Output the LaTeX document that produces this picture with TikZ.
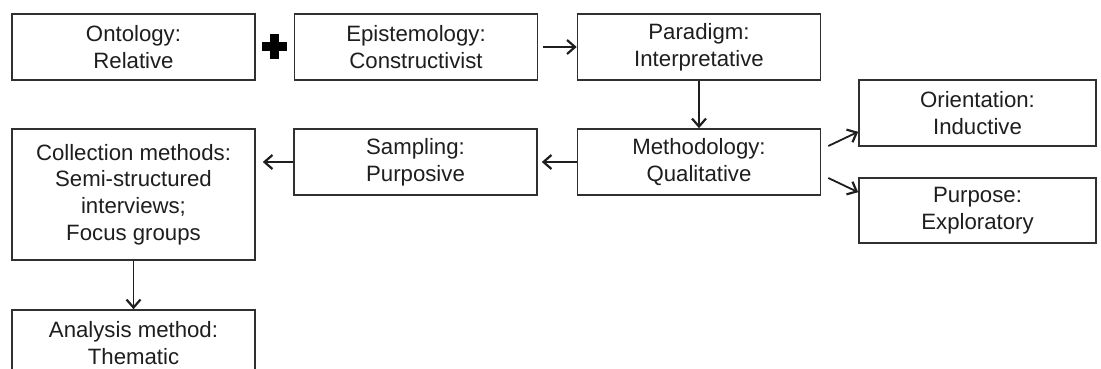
\documentclass[tikz,border=0pt]{standalone}
\usepackage{fontspec}
\setmainfont{Liberation Sans}
\usetikzlibrary{arrows.meta,calc}
\definecolor{ink}{HTML}{1E1E1E}
\definecolor{edge}{HTML}{303030}
\begin{document}
\begin{tikzpicture}[x=1pt,y=1pt,
  box/.style={draw=edge, line width=1.6pt, fill=white, text=ink,
    minimum width=243pt, minimum height=66pt, inner sep=0pt,
    align=center, font=\fontsize{22.2}{26.6}\selectfont},
  flow/.style={draw=ink, line width=1.8pt,
    -{Straight Barb[length=8pt,width=14pt,line width=2.2pt]}}]
\useasboundingbox (0,0) rectangle (1101,-369);
\clip (0,0) rectangle (1101,-369);
\fill[white] (0,0) rectangle (1101,-369);

% top row
\node[box] (ont) at (133.5,-47) {Ontology:\\Relative};
\node[box] (epi) at (416,-47) {Epistemology:\\Constructivist};
\node[box] (par) at (699,-47) {Paradigm:\\Interpretative};

% middle row
\node[box] (met) at (699,-162) {Methodology:\\Qualitative};
\node[box] (sam) at (415.5,-162) {Sampling:\\Purposive};
\node[box, minimum height=131pt] (col) at (133.5,-194.5)
  {Collection methods:\\Semi-structured\\interviews;\\Focus groups};

% right column
\node[box, minimum width=237pt] (ori) at (977.5,-113) {Orientation:\\Inductive};
\node[box, minimum width=237pt, minimum height=65pt] (pur) at (977.5,-210.5) {Purpose:\\Exploratory};

% bottom
\node[box] (ana) at (133.5,-343) {Analysis method:\\Thematic};

% plus sign between ontology and epistemology
\coordinate (plus) at ($(ont.east)!0.5!(epi.west)$);
\fill[black] ($(plus)+(-12.5,4.5)$) rectangle ($(plus)+(12.5,-4.5)$);
\fill[black] ($(plus)+(-4.5,12.5)$) rectangle ($(plus)+(4.5,-12.5)$);

% connectors
\draw[flow] ([xshift=5pt]epi.east) -- (par.west);
\draw[flow] (par.south) -- (met.north);
\draw[flow] (met.west) -- ([xshift=4pt]sam.east);
\draw[flow] (sam.west) -- ([xshift=7pt]col.east |- sam.west);
\draw[flow] (col.south) -- (ana.north);
\draw[flow] ([xshift=7pt,yshift=16pt]met.east) -- ([yshift=15pt]ori.south west);
\draw[flow] ([xshift=7pt,yshift=-16pt]met.east) -- ([yshift=-15pt]pur.north west);
\end{tikzpicture}
\end{document}
